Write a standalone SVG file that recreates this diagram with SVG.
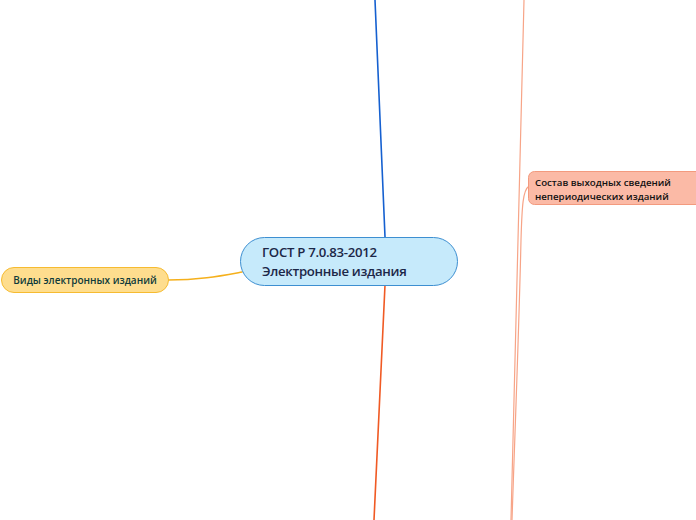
<svg xmlns="http://www.w3.org/2000/svg" width="696" height="520" viewBox="0 0 696 520">
<style>
.t{font-family:"Open Sans","Noto Sans","DejaVu Sans",sans-serif;font-weight:600}
.c{fill:none;stroke-linecap:round}
</style>
<rect width="696" height="520" fill="#ffffff"/>
<g id="connectors">
<path class="c" d="M375,0 L385,237" stroke="#1560d0" stroke-width="1.6"/>
<path class="c" d="M385,285 L374,520" stroke="#f05a24" stroke-width="1.6"/>
<path class="c" d="M168,280 C200,280 220,276 242,272" stroke="#f5b01c" stroke-width="1.6"/>
<path class="c" d="M524,0 C521,120 517,250 511,520" stroke="#f7a487" stroke-width="1.2"/>
<path class="c" d="M529,186 C523,190 522,205 521,240 C519,330 515,430 512,520" stroke="#f7a487" stroke-width="1.2"/>
</g>
<g id="node-center">
<rect x="240.5" y="237.5" width="217" height="48" rx="24" fill="#c6eafb" stroke="#3d8fd1" stroke-width="1"/>
<text class="t" x="262" y="257" font-size="13.2" letter-spacing="-0.3" fill="#1c2748">ГОСТ Р 7.0.83-2012</text>
<text class="t" x="262" y="276" font-size="13.2" letter-spacing="-0.3" fill="#1c2748">Электронные издания</text>
</g>
<g id="node-vidy">
<rect x="1.5" y="267.5" width="167" height="25" rx="12.5" fill="#fedd8e" stroke="#f6bb30" stroke-width="1"/>
<text class="t" x="85" y="284" font-size="10" fill="#0f3b3a" text-anchor="middle">Виды электронных изданий</text>
</g>
<g id="node-sostav">
<rect x="528.5" y="171.5" width="175" height="33" rx="6" fill="#fbbaa6" stroke="#f39a7e" stroke-width="1"/>
<text class="t" x="535" y="186" font-size="9.7" fill="#111111">Состав выходных сведений</text>
<text class="t" x="535" y="200" font-size="9.7" fill="#111111">непериодических изданий</text>
</g>
</svg>
